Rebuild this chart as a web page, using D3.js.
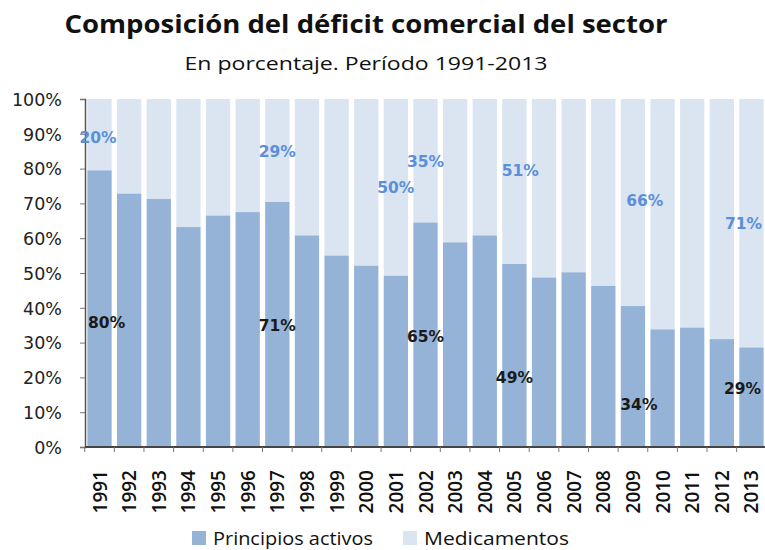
<!DOCTYPE html>
<html>
<head>
<meta charset="utf-8">
<script src="https://cdn.jsdelivr.net/npm/d3@7"></script>
<style>
  body { margin: 0; background: #fff; }
  svg { display: block; }
</style>
</head>
<body>
<script>
// data (share of the trade deficit, %)
var years = ["1991","1992","1993","1994","1995","1996","1997","1998","1999","2000","2001","2002",
             "2003","2004","2005","2006","2007","2008","2009","2010","2011","2012","2013"];
var principios = [79.5,72.8,71.3,63.2,66.5,67.5,70.4,60.8,55.0,52.1,49.2,64.5,
                  58.8,60.8,52.6,48.7,50.2,46.3,40.5,33.8,34.3,31.0,28.6];
var yTicks = [0,10,20,30,40,50,60,70,80,90,100];

// annotated values as printed on the chart
var noteYears = ["1991","1997","2001","2002","2005","2009","2013"];
var notePrincipios = ["80%","71%", null, "65%","49%","34%","29%"];
var noteMedicamentos = ["20%","29%","50%","35%","51%","66%","71%"];

var series = ["Principios activos", "Medicamentos"];

// layout
var W = 765, H = 550;
var plotLeft = 85, plotRight = 766, plotTop = 99, plotBottom = 447;
var colors = {"Principios activos": "#95b3d7", "Medicamentos": "#dbe5f1"};

// where the annotations sit (band offset in steps, height in %)
var noteShiftP = [0.24, 0, 0, 0, 0, 0.2, -0.3];
var noteLevelP = [35.7, 34.8, 0, 31.9, 19.9, 12.1, 16.7];
var noteShiftM = [-0.05, 0, 0, 0, 0.2, 0.4, -0.27];
var noteLevelM = [89, 85, 74.5, 82, 79.5, 71, 64.3];

var svg = d3.select("body").append("svg")
    .attr("width", W)
    .attr("height", H);

var x = d3.scaleBand().domain(years).range([plotLeft, plotRight])
    .paddingInner(0.18).paddingOuter(0.08);
var y = d3.scaleLinear().domain([0, 100]).range([plotBottom, plotTop]);

// titles
svg.append("text")
    .attr("x", 366).attr("y", 33)
    .attr("text-anchor", "middle")
    .attr("font-family", "Open Sans, sans-serif")
    .attr("font-weight", "bold")
    .attr("font-size", 25)
    .attr("textLength", 603).attr("lengthAdjust", "spacingAndGlyphs")
    .attr("fill", "#111")
    .text("Composición del déficit comercial del sector");

svg.append("text")
    .attr("x", 366).attr("y", 70)
    .attr("text-anchor", "middle")
    .attr("font-family", "Open Sans, sans-serif")
    .attr("font-size", 18)
    .attr("textLength", 363).attr("lengthAdjust", "spacingAndGlyphs")
    .attr("fill", "#111")
    .text("En porcentaje. Período 1991-2013");

// stacked bars
var bars = svg.append("g");
bars.selectAll("rect.med")
    .data(years)
    .enter().append("rect")
    .attr("class", "med")
    .attr("x", function(d) { return x(d); })
    .attr("width", x.bandwidth())
    .attr("y", y(100))
    .attr("height", function(d, i) { return y(principios[i]) - y(100); })
    .attr("fill", colors["Medicamentos"]);

bars.selectAll("rect.pa")
    .data(years)
    .enter().append("rect")
    .attr("class", "pa")
    .attr("x", function(d) { return x(d); })
    .attr("width", x.bandwidth())
    .attr("y", function(d, i) { return y(principios[i]); })
    .attr("height", function(d, i) { return y(0) - y(principios[i]); })
    .attr("fill", colors["Principios activos"]);

// y axis
var yAxis = d3.axisLeft(y)
    .tickValues(yTicks)
    .tickSize(5)
    .tickFormat(function(d) { return d + "%"; });

var gy = svg.append("g")
    .attr("transform", "translate(" + plotLeft + ",0)")
    .call(yAxis);
gy.select(".domain").attr("stroke", "#555").attr("stroke-width", 1.5);
gy.selectAll(".tick line").attr("stroke", "#777");
gy.selectAll(".tick text")
    .attr("x", -23)
    .attr("dy", "0.36em")
    .attr("font-family", "DejaVu Sans, Verdana, sans-serif")
    .attr("font-size", 17.5)
    .attr("fill", "#222");

// x axis
var gx = svg.append("g")
    .attr("transform", "translate(0," + plotBottom + ")");
gx.append("line")
    .attr("x1", plotLeft).attr("x2", plotRight)
    .attr("stroke", "#444").attr("stroke-width", 2);
gx.selectAll("line.tick")
    .data(years)
    .enter().append("line")
    .attr("class", "tick")
    .attr("x1", function(d) { return x(d) - x.step() * x.paddingInner() / 2; })
    .attr("x2", function(d) { return x(d) - x.step() * x.paddingInner() / 2; })
    .attr("y1", 0).attr("y2", 5)
    .attr("stroke", "#777");
gx.selectAll("text")
    .data(years)
    .enter().append("text")
    .attr("transform", function(d) {
        return "translate(" + (x(d) + x.bandwidth() / 2 + 7) + ",23) rotate(-90)";
    })
    .attr("text-anchor", "end")
    .attr("font-family", "Open Sans, sans-serif")
    .attr("font-weight", 600)
    .attr("font-size", 19)
    .attr("fill", "#111")
    .text(function(d) { return d; });

// annotations
var notes = svg.append("g")
    .attr("font-family", "DejaVu Sans, sans-serif")
    .attr("font-weight", "bold")
    .attr("font-size", 15.5)
    .attr("text-anchor", "middle");

notes.selectAll("text.m")
    .data(noteYears)
    .enter().append("text")
    .attr("class", "m")
    .attr("x", function(d, i) { return x(d) + x.bandwidth() / 2 + noteShiftM[i] * x.step(); })
    .attr("y", function(d, i) { return y(noteLevelM[i]); })
    .attr("dy", "0.36em")
    .attr("fill", "#5b8fd9")
    .text(function(d, i) { return noteMedicamentos[i]; });

notes.selectAll("text.p")
    .data(noteYears.filter(function(d, i) { return notePrincipios[i]; }))
    .enter().append("text")
    .attr("class", "p")
    .each(function(d) {
        var i = noteYears.indexOf(d);
        d3.select(this)
            .attr("x", x(d) + x.bandwidth() / 2 + noteShiftP[i] * x.step())
            .attr("y", y(noteLevelP[i]))
            .text(notePrincipios[i]);
    })
    .attr("dy", "0.36em")
    .attr("fill", "#1a1a1a");

// legend
var legend = svg.append("g")
    .attr("transform", "translate(192,531)");
var lx = [0, 211];
var lw = [160, 145];
legend.selectAll("rect")
    .data(series)
    .enter().append("rect")
    .attr("x", function(d, i) { return lx[i]; })
    .attr("y", 0)
    .attr("width", 14).attr("height", 14)
    .attr("fill", function(d) { return colors[d]; });
legend.selectAll("text")
    .data(series)
    .enter().append("text")
    .attr("x", function(d, i) { return lx[i] + 21; })
    .attr("y", 14)
    .attr("font-family", "Open Sans, sans-serif")
    .attr("font-size", 18)
    .attr("textLength", function(d, i) { return lw[i]; })
    .attr("lengthAdjust", "spacingAndGlyphs")
    .attr("fill", "#111")
    .text(function(d) { return d; });
</script>
</body>
</html>
